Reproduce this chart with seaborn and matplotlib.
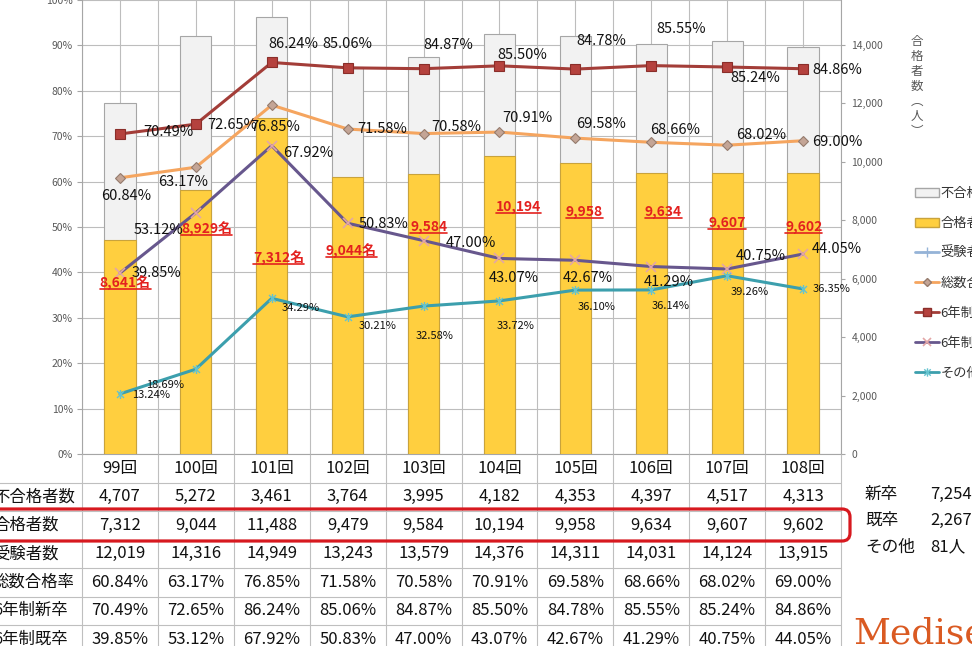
import numpy as np
import matplotlib
matplotlib.use("Agg")
import matplotlib.pyplot as plt
import matplotlib.ticker as mticker
from matplotlib.lines import Line2D
from matplotlib.patches import Patch, FancyBboxPatch
from matplotlib.path import Path
from matplotlib.transforms import IdentityTransform, blended_transform_factory
import seaborn as sns

# ---- data ----
rounds = ["99回", "100回", "101回", "102回", "103回", "104回", "105回", "106回", "107回", "108回"]
fail_count = [4707, 5272, 3461, 3764, 3995, 4182, 4353, 4397, 4517, 4313]
pass_count = [7312, 9044, 11488, 9479, 9584, 10194, 9958, 9634, 9607, 9602]
exam_count = [12019, 14316, 14949, 13243, 13579, 14376, 14311, 14031, 14124, 13915]
rate_total = [60.84, 63.17, 76.85, 71.58, 70.58, 70.91, 69.58, 68.66, 68.02, 69.00]
rate_new = [70.49, 72.65, 86.24, 85.06, 84.87, 85.50, 84.78, 85.55, 85.24, 84.86]
rate_grad = [39.85, 53.12, 67.92, 50.83, 47.00, 43.07, 42.67, 41.29, 40.75, 44.05]
rate_other = [13.24, 18.69, 34.29, 30.21, 32.58, 33.72, 36.10, 36.14, 39.26, 36.35]
red_notes = ["8,641名", "8,929名", "7,312名", "9,044名", "9,584", "10,194", "9,958", "9,634", "9,607", "9,602"]
row_labels = ["不合格者数", "合格者数", "受験者数", "総数合格率", "6年制新卒", "6年制既卒"]
break_labels = ["新卒", "既卒", "その他"]
break_values = ["7,254人", "2,267人", "81人"]

# ---- label placement (pixel offsets from the points) ----
off_total = [(6, -18), (-13, -15), (3, -22), (35, 0), (33, 7), (28, 14), (26, 14), (24, 12), (34, 10), (34, -1)]
off_new = [(48, 2), (36, -1), (22, 18), (0, 24), (25, 24), (23, 11), (26, 28), (30, 37), (28, -11), (34, -1)]
off_grad = [(37, 0), (-37, -17), (36, -7), (36, -1), (47, -2), (14, -20), (12, -18), (18, -15), (34, 13), (34, 5)]
off_other = [(31, -1), (-31, -16), (29, -10), (30, -9), (11, -30), (16, -25), (21, -17), (19, -16), (23, -16), (29, 0)]
red_dx = [0.07, 0.14, 0.09, 0.05, 0.07, 0.25, 0.12, 0.16, 0.0, 0.01]
red_y = [0.377, 0.496, 0.432, 0.449, 0.50, 0.544, 0.533, 0.533, 0.509, 0.50]

sns.set_style("white")
plt.rcParams["font.family"] = ["Noto Sans CJK JP", "DejaVu Sans"]

W, H = 972, 646
fig = plt.figure(figsize=(W / 100, H / 100), dpi=100)
L, R, B = 82, 841, 454
ax = fig.add_axes([L / W, 1 - B / H, (R - L) / W, B / H])
ax_bar = ax.twinx()
ax_line = ax.twinx()

x = np.arange(len(rounds))

# bars: total (grey) with passers (yellow) in front -> stacked look
sns.barplot(x=rounds, y=exam_count, color="#F2F2F2", saturation=1, width=0.41,
            edgecolor="#A6A6A6", linewidth=0.8, ax=ax_bar)
sns.barplot(x=rounds, y=pass_count, color="#FFCF3F", saturation=1, width=0.41,
            edgecolor="#C9A33C", linewidth=0.8, ax=ax_bar)
ax_bar.set_ylim(0, 15540)
ax_bar.set_yticks(range(0, 14001, 2000))
ax_bar.yaxis.set_major_formatter(mticker.StrMethodFormatter("{x:,.0f}"))
ax_bar.tick_params(axis="y", labelsize=7.5, labelcolor="#595959", color="#A6A6A6",
                   length=3, pad=4.5)
ax_bar.set_xlabel("")
ax_bar.set_ylabel("")
for s in ["left", "top", "bottom"]:
    ax_bar.spines[s].set_visible(False)
ax_bar.spines["right"].set_color("#A6A6A6")

# grid / left axis
ax.set_xlim(-0.5, 9.5)
ax.set_ylim(0, 1)
ax.set_xticks(np.arange(-0.5, 9.6, 0.5))
ax.tick_params(axis="x", length=0, labelbottom=False)
ax_bar.tick_params(axis="x", length=0, labelbottom=False)
ax.set_yticks(np.arange(0, 1.01, 0.1))
ax.yaxis.set_major_formatter(mticker.PercentFormatter(1.0, decimals=0))
ax.tick_params(axis="y", labelsize=7.5, labelcolor="#595959", color="#A6A6A6",
               length=3.5, pad=3)
ax.grid(True, color="#BDBDBD", linewidth=0.8)
for s in ["right", "top"]:
    ax.spines[s].set_visible(False)
ax.spines["left"].set_color("#A6A6A6")
ax.spines["bottom"].set_color("#A6A6A6")

# lines
star = Path([(-1, -1), (1, 1), (-1, 1), (1, -1), (0, -1.3), (0, 1.3)],
            [Path.MOVETO, Path.LINETO, Path.MOVETO, Path.LINETO, Path.MOVETO, Path.LINETO])
series = [
    (rate_total, dict(color="#F5A55F", marker="D", markersize=5, markerfacecolor="#C4A596",
                      markeredgecolor="#957B6D", markeredgewidth=0.8), off_total, 10.5),
    (rate_new, dict(color="#A33D38", marker="s", markersize=6.5, markerfacecolor="#B5423E",
                    markeredgecolor="#8A2E2A", markeredgewidth=0.8), off_new, 10.5),
    (rate_grad, dict(color="#67578D", marker="x", markersize=6.5, markerfacecolor="none",
                     markeredgecolor="#E3A6A6", markeredgewidth=1.2), off_grad, 10.5),
    (rate_other, dict(color="#3C9FAD", marker=star, markersize=6.5, markerfacecolor="none",
                      markeredgecolor="#64C3CF", markeredgewidth=1.0), off_other, 8),
]
for vals, style, offs, fs in series:
    y = np.array(vals) / 100
    sns.lineplot(x=x, y=y, ax=ax_line, linewidth=2.2, **style)
    for xi, yi, v, (dx, dy) in zip(x, y, vals, offs):
        ax_line.annotate(f"{v:.2f}%", (xi, yi), xytext=(dx, dy), textcoords="offset pixels",
                         ha="center", va="center", fontsize=fs, color="#111111")
ax_line.set_ylim(0, 1)
ax_line.set_yticks([])
ax_line.set_xlim(-0.5, 9.5)
ax_line.set_xlabel("")
ax_line.set_ylabel("")
for s in ax_line.spines.values():
    s.set_visible(False)

# red notes (bold, underlined)
trans = blended_transform_factory(ax_line.transData, ax_line.transAxes)
red_texts = []
for xi, note, dx, yy in zip(x, red_notes, red_dx, red_y):
    t = ax_line.text(xi + dx, yy, note, transform=trans, ha="center", va="center",
                     fontsize=10, fontweight="bold", color="#E3211F")
    red_texts.append(t)

# table under the chart
unit = (R - L) / 10
tax = fig.add_axes([0, 0, 1, (H - B) / H])
tax.set_xlim(-0.5 - L / unit, 9.5 + (W - R) / unit)
row_h = 28.5
tax.set_ylim((H - B) / row_h, 0)
tax.axis("off")
tax.patch.set_visible(False)
tax.vlines(np.arange(-0.5, 10, 1), 0, 8, color="#BFBFBF", linewidth=0.8)
tax.hlines(np.arange(1, 7), -0.5 - L / unit - 1, 9.5, color="#BFBFBF", linewidth=0.8)

rows = [
    [f"{v:,}" for v in fail_count],
    [f"{v:,}" for v in pass_count],
    [f"{v:,}" for v in exam_count],
    [f"{v:.2f}%" for v in rate_total],
    [f"{v:.2f}%" for v in rate_new],
    [f"{v:.2f}%" for v in rate_grad],
]
for xi, r in zip(x, rounds):
    tax.text(xi, 0.5, r, ha="center", va="center", fontsize=12, color="#111111")
label_x = -0.5 - (L + 7) / unit
for ri, (lab, cells) in enumerate(zip(row_labels, rows), start=1):
    tax.text(label_x, ri + 0.5, lab, ha="left", va="center", fontsize=11.8, color="#111111")
    for xi, c in zip(x, cells):
        tax.text(xi, ri + 0.5, c, ha="center", va="center", fontsize=12, color="#111111")

# red rounded frame around the passers row
frame = FancyBboxPatch((-20, H - 541), 870, 32, boxstyle="round,pad=0,rounding_size=8",
                       transform=IdentityTransform(), fill=False, edgecolor="#D7191F",
                       linewidth=2.3)
fig.add_artist(frame)

# breakdown on the right
for i, (lab, val) in enumerate(zip(break_labels, break_values)):
    yy = 1 - (494 + 26.5 * i) / H
    fig.text(865 / W, yy, lab, ha="left", va="center", fontsize=12, color="#111111")
    fig.text(930 / W, yy, val, ha="left", va="center", fontsize=12, color="#111111")

# right axis title (vertical writing)
fig.text(917 / W, 1 - 35 / H, "\n".join("合格者数︵人︶"), ha="center", va="top",
         fontsize=9, linespacing=1.2, color="#595959")

# legend
handles = [
    Patch(facecolor="#F2F2F2", edgecolor="#A6A6A6"),
    Patch(facecolor="#FFCF3F", edgecolor="#C9A33C"),
    Line2D([], [], color="#95B3D7", lw=2, marker="+", markersize=7, markeredgecolor="#95B3D7"),
    Line2D([], [], color="#F5A55F", lw=2, marker="D", markersize=4.5,
           markerfacecolor="#C4A596", markeredgecolor="#957B6D"),
    Line2D([], [], color="#A33D38", lw=2, marker="s", markersize=5.5,
           markerfacecolor="#B5423E", markeredgecolor="#8A2E2A"),
    Line2D([], [], color="#67578D", lw=2, marker="x", markersize=6,
           markeredgecolor="#E3A6A6", markeredgewidth=1.2),
    Line2D([], [], color="#3C9FAD", lw=2, marker=star, markersize=6,
           markerfacecolor="none", markeredgecolor="#64C3CF"),
]
fig.legend(handles, ["不合格者数", "合格者数", "受験者数", "総数合格率", "6年制新卒", "6年制既卒", "その他"],
           loc="upper left", bbox_to_anchor=(915 / W, 1 - 187 / H), frameon=False,
           fontsize=9.5, labelspacing=1.28, handlelength=1.8, handletextpad=0.15,
           borderpad=0, borderaxespad=0, labelcolor="#333333")

# logo
fig.text(853 / W, 2 / H, "Mediserve", ha="left", va="baseline", fontsize=26,
         family="DejaVu Serif", color="#DA5A22")

# underline the red notes
fig.canvas.draw()
for t in red_texts:
    bb = t.get_window_extent()
    fig.add_artist(Line2D([bb.x0, bb.x1], [bb.y0 + 1, bb.y0 + 1], transform=IdentityTransform(),
                          color="#E3211F", linewidth=1.2))

fig.savefig("out.png", dpi=100)
